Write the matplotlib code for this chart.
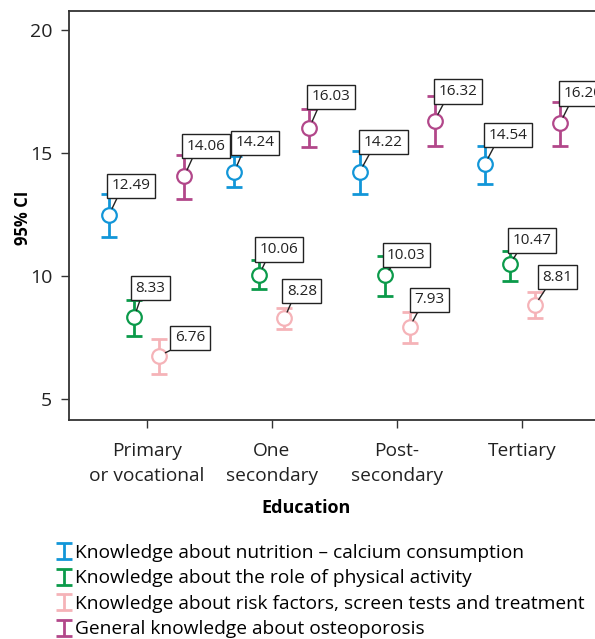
import numpy as np
import matplotlib
matplotlib.use('Agg')
import matplotlib.pyplot as plt
from matplotlib.legend_handler import HandlerErrorbar

plt.rcParams['font.family'] = ['Open Sans', 'DejaVu Sans']

# data
education = ['Primary\nor vocational', 'One\nsecondary', 'Post-\nsecondary', 'Tertiary']
series = ['Knowledge about nutrition \u2013 calcium consumption',
          'Knowledge about the role of physical activity',
          'Knowledge about risk factors, screen tests and treatment',
          'General knowledge about osteoporosis']

nutrition_mean = [12.49, 14.24, 14.22, 14.54]
nutrition_low = [11.60, 13.60, 13.33, 13.74]
nutrition_high = [13.32, 14.88, 15.09, 15.30]

activity_mean = [8.33, 10.06, 10.03, 10.47]
activity_low = [7.56, 9.48, 9.20, 9.81]
activity_high = [9.04, 10.64, 10.81, 11.02]

risk_mean = [6.76, 8.28, 7.93, 8.81]
risk_low = [6.02, 7.83, 7.26, 8.28]
risk_high = [7.45, 8.71, 8.54, 9.34]

general_mean = [14.06, 16.03, 16.32, 16.20]
general_low = [13.13, 15.23, 15.30, 15.27]
general_high = [14.91, 16.79, 17.30, 17.06]

means = [nutrition_mean, activity_mean, risk_mean, general_mean]
lows = [nutrition_low, activity_low, risk_low, general_low]
highs = [nutrition_high, activity_high, risk_high, general_high]

colors = ['#1296d8', '#0b9a4a', '#f5b3b8', '#b2478a']
shifts = [-0.3, -0.1, 0.1, 0.3]

# label box offsets (pixels, box lower-left relative to point)
label_offsets = [
    [(-2, 17), (-3, 17), (0, 18), (-1, 17)],
    [(-3, 17), (-4, 13), (-2, 8), (-2, 12)],
    [(11, 6), (-2, 15), (0, 15), (3, 16)],
    [(-2, 18), (-2, 19), (-1, 17), (-1, 18)],
]

fig = plt.figure(figsize=(5.95, 6.39), dpi=100)
ax = fig.add_axes([69 / 595, 1 - 420 / 639, 531 / 595, 409 / 639])

ind = np.arange(len(education))
handles = []
for k in range(4):
    x = ind + shifts[k]
    m = np.array(means[k])
    err = [m - np.array(lows[k]), np.array(highs[k]) - m]
    eb = ax.errorbar(x, m, yerr=err, fmt='none', ecolor=colors[k],
                     elinewidth=2, capsize=5.8, capthick=2, zorder=2)
    handles.append(eb)
    ax.plot(x, m, 'o', ms=10.5, mfc='white', mec=colors[k], mew=1.6, zorder=2.5)
    for j in range(len(x)):
        dx, dy = label_offsets[k][j]
        ax.annotate('%.2f' % m[j], xy=(x[j], m[j]),
                    xytext=(dx + 4.5, dy + 4.5), textcoords='offset pixels',
                    ha='left', va='bottom', fontsize=11, color='#222222',
                    bbox=dict(boxstyle='square,pad=0.3', fc='white',
                              ec='#222222', lw=1),
                    arrowprops=dict(arrowstyle='-', color='#222222', lw=1,
                                    shrinkA=0, shrinkB=5, relpos=(0.2, 0)),
                    zorder=3)

ax.set_xlim(-0.62, 3.62)
ax.set_ylim(4.15, 20.77)
ax.set_yticks([5, 10, 15, 20])
ax.set_xticks(ind)
ax.set_xticklabels(education, fontsize=13.8, linespacing=1.45)
ax.tick_params(axis='y', labelsize=14, length=6, width=1, pad=6, colors='#333333', labelcolor='#222222')
ax.tick_params(axis='x', length=6, width=1, pad=10, colors='#333333', labelcolor='#222222')
for s in ax.spines.values():
    s.set_color('#333333')
    s.set_linewidth(1.3)
ax.spines['right'].set_visible(False)

ax.set_ylabel('95% CI', fontsize=12, fontweight='bold')
ax.yaxis.set_label_coords(-0.069, 0.494)
ax.set_xlabel('Education', fontsize=13, fontweight='bold')
ax.xaxis.set_label_coords(0.446, -0.215)
ax.xaxis.label.set_va('center')

fig.legend(handles, series, loc='upper left', bbox_to_anchor=(57 / 595, 1 - 544 / 639),
           frameon=False, fontsize=13.8, handlelength=0.7, handletextpad=0.25,
           labelspacing=0.39, borderpad=0, borderaxespad=0,
           handler_map={type(handles[0]): HandlerErrorbar(xerr_size=0.35, yerr_size=0.42)})

fig.savefig('out.png', dpi=100)
